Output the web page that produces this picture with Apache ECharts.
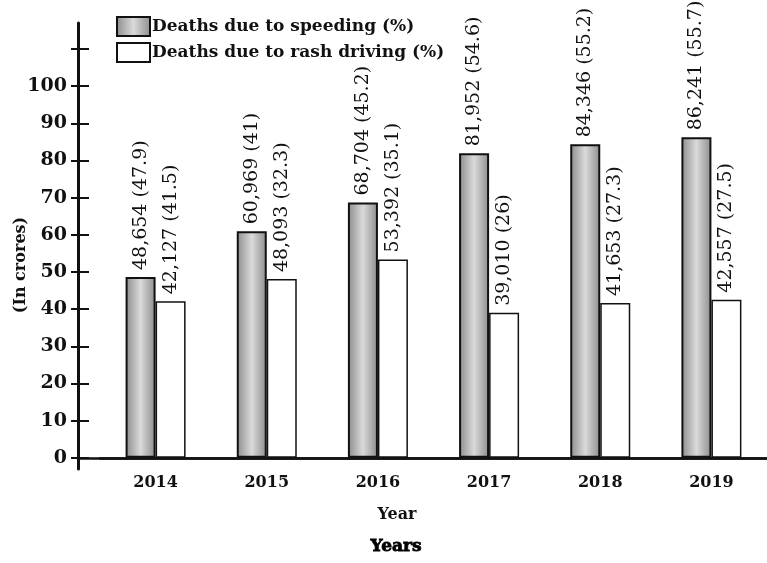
<!DOCTYPE html>
<html>
<head>
<meta charset="utf-8">
<script src="https://cdn.jsdelivr.net/npm/echarts@6/dist/echarts.min.js"></script>
<style>html,body{margin:0;padding:0;background:#fff;}#c{width:767px;height:563px;}</style>
</head>
<body>
<div id="c"></div>
<script>
// ---- data ----
const years = ['2014', '2015', '2016', '2017', '2018', '2019'];
const speedingValues = [48.654, 60.969, 68.704, 81.952, 84.346, 86.241];
const speedingPct = ['47.9', '41', '45.2', '54.6', '55.2', '55.7'];
const rashValues = [42.127, 48.093, 53.392, 39.010, 41.653, 42.557];
const rashPct = ['41.5', '32.3', '35.1', '26', '27.3', '27.5'];
const yTickValues = [0, 10, 20, 30, 40, 50, 60, 70, 80, 90, 100, 110];
const yLabelValues = [0, 10, 20, 30, 40, 50, 60, 70, 80, 90, 100];
const seriesNames = ['Deaths due to speeding (%)', 'Deaths due to rash driving (%)'];

const SERIF = '"DejaVu Serif", "Liberation Serif", serif';
const fmt = v => Math.round(v * 1000).toLocaleString('en-US');

const chart = echarts.init(document.getElementById('c'), null, {renderer: 'canvas'});

const labelCfg = pcts => ({
  show: true,
  position: 'top',
  rotate: 90,
  align: 'left',
  verticalAlign: 'middle',
  distance: 7,
  fontFamily: SERIF,
  fontSize: 19,
  color: '#111',
  formatter: p => fmt(p.value) + ' (' + pcts[p.dataIndex] + ')'
});

const option = {
  backgroundColor: '#fff',
  animation: false,
  legend: {
    orient: 'vertical',
    left: 111,
    top: 11,
    itemWidth: 33,
    itemHeight: 19,
    itemGap: 5,
    icon: 'rect',
    textStyle: {fontFamily: SERIF, fontSize: 17, fontWeight: 'bold', color: '#111', padding: [0, 0, 0, -3]},
    data: seriesNames
  },
  grid: [
    {left: 78, right: 0, top: 23, bottom: 94},
    {left: 100, right: -18, top: 23, bottom: 94}
  ],
  xAxis: [
    {
      gridIndex: 0, type: 'value', min: 0, max: 1,
      axisLine: {show: true, onZero: true, lineStyle: {color: '#111', width: 2.5}},
      axisTick: {show: false}, axisLabel: {show: false}, splitLine: {show: false}
    },
    {
      gridIndex: 1, type: 'category', data: years,
      axisLine: {show: true, onZero: true, lineStyle: {color: '#111', width: 2.5}},
      axisTick: {show: false},
      axisLabel: {margin: 6, fontFamily: SERIF, fontSize: 16, fontWeight: 'bold', color: '#111'},
      splitLine: {show: false}
    }
  ],
  yAxis: [
    {
      gridIndex: 0, type: 'value', min: -3, max: 117,
      axisLine: {show: true, onZero: false, lineStyle: {color: '#111', width: 3}},
      axisTick: {show: true, inside: false, length: 7, customValues: yTickValues, lineStyle: {color: '#111', width: 2}},
      axisLabel: {show: true, margin: 11, customValues: yLabelValues, fontFamily: SERIF, fontSize: 19, fontWeight: 'bold', color: '#111'},
      splitLine: {show: false}
    },
    {
      gridIndex: 0, type: 'value', min: -3, max: 117, position: 'left',
      axisLine: {show: false, onZero: false},
      axisTick: {show: true, inside: true, length: 11, customValues: yTickValues, lineStyle: {color: '#111', width: 2}},
      axisLabel: {show: false},
      splitLine: {show: false}
    },
    {
      gridIndex: 1, type: 'value', min: -3, max: 117, show: false
    }
  ],
  graphic: [
    {type: 'text', x: 21, y: 265, rotation: Math.PI / 2,
      style: {text: '(In crores)', fontFamily: SERIF, fontSize: 16, fontWeight: 'bold', fill: '#111', align: 'center', verticalAlign: 'middle'}},
    {type: 'text', x: 397, y: 515,
      style: {text: 'Year', fontFamily: SERIF, fontSize: 16, fontWeight: 'bold', fill: '#111', align: 'center', verticalAlign: 'middle'}},
    {type: 'text', x: 396, y: 547,
      style: {text: 'Years', fontFamily: SERIF, fontSize: 17, fontWeight: 'bold', fill: '#000', align: 'center', verticalAlign: 'middle', stroke: '#000', lineWidth: 0.8}}
  ],
  series: [
    {
      name: seriesNames[0], type: 'bar', xAxisIndex: 1, yAxisIndex: 2,
      data: speedingValues, barWidth: 30, barGap: '0%',
      itemStyle: {
        color: new echarts.graphic.LinearGradient(0, 0, 1, 0, [
          {offset: 0, color: '#8c8c8c'},
          {offset: 0.5, color: '#dadada'},
          {offset: 1, color: '#8c8c8c'}
        ]),
        borderColor: '#111', borderWidth: 2
      },
      label: labelCfg(speedingPct)
    },
    {
      name: seriesNames[1], type: 'bar', xAxisIndex: 1, yAxisIndex: 2,
      data: rashValues, barWidth: 30, barGap: '0%',
      itemStyle: {color: '#fff', borderColor: '#111', borderWidth: 1.5},
      label: labelCfg(rashPct)
    }
  ]
};
chart.setOption(option);
</script>
</body>
</html>
